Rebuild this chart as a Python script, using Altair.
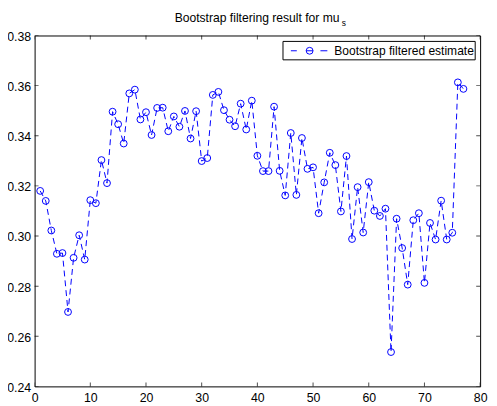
import altair as alt
import pandas as pd

step = list(range(1, 78))
estimate = [
    0.3180, 0.3140, 0.3022, 0.2929, 0.2932, 0.2697, 0.2913, 0.3003, 0.2906, 0.3143,
    0.3131, 0.3303, 0.3211, 0.3496, 0.3446, 0.3369, 0.3569, 0.3584, 0.3465, 0.3494,
    0.3403, 0.3511, 0.3512, 0.3418, 0.3477, 0.3436, 0.3499, 0.3389, 0.3498, 0.3299,
    0.3311, 0.3563, 0.3575, 0.3502, 0.3464, 0.3438, 0.3528, 0.3425, 0.3540, 0.3320,
    0.3259, 0.3259, 0.3516, 0.3260, 0.3162, 0.3411, 0.3164, 0.3391, 0.3268, 0.3274,
    0.3091, 0.3214, 0.3332, 0.3283, 0.3098, 0.3319, 0.2988, 0.3195, 0.3014, 0.3215,
    0.3101, 0.3080, 0.3109, 0.2537, 0.3069, 0.2952, 0.2806, 0.3063, 0.3091, 0.2813,
    0.3052, 0.2986, 0.3141, 0.2986, 0.3013, 0.3613, 0.3587,
]
x_ticks = [0, 10, 20, 30, 40, 50, 60, 70, 80]
y_ticks = [0.24, 0.26, 0.28, 0.30, 0.32, 0.34, 0.36, 0.38]

W, H = 452, 356
FONT = "Liberation Sans"
BLUE = "#0000ff"

df = pd.DataFrame({"step": step, "estimate": estimate})
xt = pd.DataFrame({"v": x_ticks})
yt = pd.DataFrame({"v": y_ticks})

xscale = alt.Scale(domain=[0, 80], nice=False, zero=False)
yscale = alt.Scale(domain=[0.24, 0.38], nice=False, zero=False)

xaxis = alt.Axis(values=x_ticks, title=None, grid=False, domain=False, tickSize=0,
                 labelFont=FONT, labelFontSize=12.5, labelColor="black", labelPadding=5,
                 labelFlush=False)
yaxis = alt.Axis(values=y_ticks, title=None, grid=False, domain=False, tickSize=0,
                 labelFont=FONT, labelFontSize=12.5, labelColor="black", labelPadding=4,
                 labelOffset=1, format=".2f", labelFlush=False)

base = alt.Chart(df)
line = base.mark_line(color=BLUE, strokeWidth=1, strokeDash=[6, 4]).encode(
    x=alt.X("step:Q", scale=xscale, axis=xaxis),
    y=alt.Y("estimate:Q", scale=yscale, axis=yaxis),
)
pts = base.mark_point(shape="circle", filled=False, color=BLUE, size=48, strokeWidth=1, opacity=1).encode(
    x=alt.X("step:Q", scale=xscale),
    y=alt.Y("estimate:Q", scale=yscale),
)

tick_style = dict(color="black", thickness=1, size=8, clip=True)
xt_bottom = alt.Chart(xt).mark_tick(orient="vertical", **tick_style).encode(
    x=alt.X("v:Q", scale=xscale), y=alt.datum(0.24, scale=yscale))
xt_top = alt.Chart(xt).mark_tick(orient="vertical", **tick_style).encode(
    x=alt.X("v:Q", scale=xscale), y=alt.datum(0.38, scale=yscale))
yt_left = alt.Chart(yt).mark_tick(orient="horizontal", **tick_style).encode(
    y=alt.Y("v:Q", scale=yscale), x=alt.datum(0, scale=xscale))
yt_right = alt.Chart(yt).mark_tick(orient="horizontal", **tick_style).encode(
    y=alt.Y("v:Q", scale=yscale), x=alt.datum(80, scale=xscale))

one = pd.DataFrame({"a": [0]})
title = alt.Chart(one).mark_text(text="Bootstrap filtering result for mu", font=FONT, fontSize=12.3,
                                 align="center", baseline="alphabetic", color="black").encode(
    x=alt.value(W / 2 - 0.3), y=alt.value(-14))
title_sub = alt.Chart(one).mark_text(text="s", font=FONT, fontSize=8.5,
                                     align="left", baseline="alphabetic", color="black").encode(
    x=alt.value(311.5), y=alt.value(-9.3))

leg_box = alt.Chart(one).mark_rect(fill="white", stroke="black", strokeWidth=1).encode(
    x=alt.value(252), x2=alt.value(447), y=alt.value(6), y2=alt.value(24.7))
leg_l1 = alt.Chart(one).mark_rule(color=BLUE, strokeWidth=1).encode(
    x=alt.value(260), x2=alt.value(266), y=alt.value(15.5))
leg_l2 = alt.Chart(one).mark_rule(color=BLUE, strokeWidth=1).encode(
    x=alt.value(275.5), x2=alt.value(282.5), y=alt.value(15.5))
leg_l3 = alt.Chart(one).mark_rule(color=BLUE, strokeWidth=1).encode(
    x=alt.value(290), x2=alt.value(297), y=alt.value(15.5))
leg_pt = alt.Chart(one).mark_point(shape="circle", filled=False, color=BLUE, size=48, strokeWidth=1, opacity=1).encode(
    x=alt.value(279), y=alt.value(15.5))
leg_txt = alt.Chart(one).mark_text(text="Bootstrap filtered estimate", font=FONT, fontSize=12.2,
                                   align="left", baseline="middle", color="black").encode(
    x=alt.value(304), y=alt.value(16))

chart = alt.layer(
    line, pts, xt_bottom, xt_top, yt_left, yt_right,
    leg_box, leg_l1, leg_l2, leg_l3, leg_pt, leg_txt, title, title_sub,
).properties(
    width=W, height=H,
    autosize=alt.AutoSizeParams(type="none"),
    padding={"left": 27, "top": 25, "right": 9, "bottom": 17},
    background="white",
).configure_view(stroke="black", strokeWidth=1)

chart.save("out.html", embed_options={"renderer": "svg", "actions": False})
